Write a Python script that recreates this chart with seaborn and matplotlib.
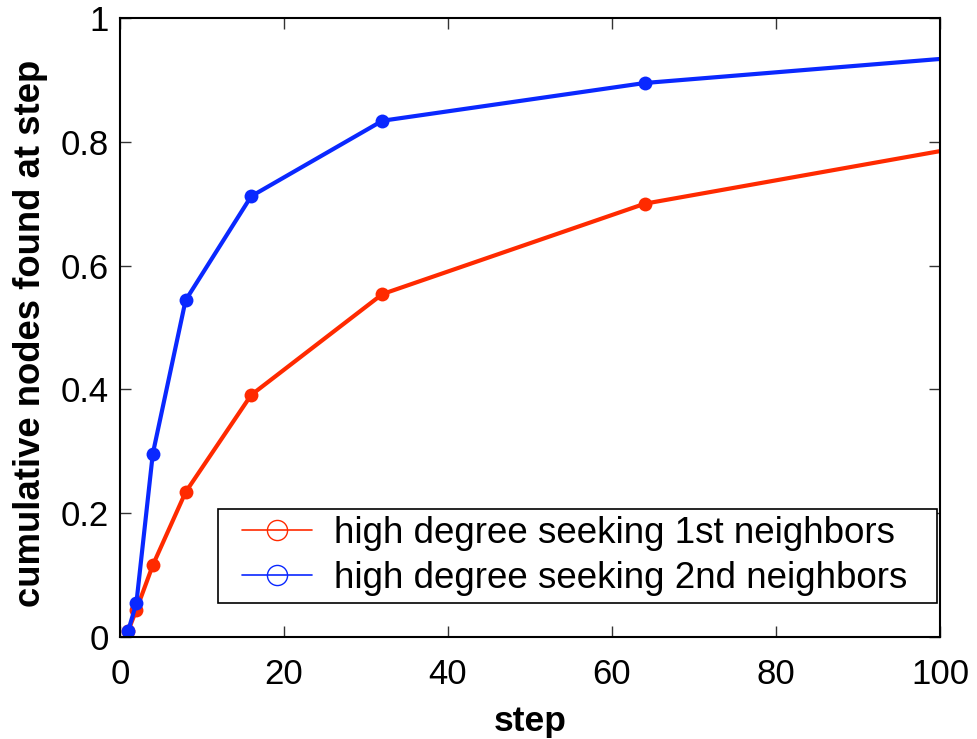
import numpy as np
import pandas as pd
import matplotlib
matplotlib.use("Agg")
import matplotlib.pyplot as plt
from matplotlib.lines import Line2D
from matplotlib.legend_handler import HandlerLine2D
import seaborn as sns

# Search steps and cumulative fraction of nodes found
steps = [1, 2, 4, 8, 16, 32, 64, 128]
first_neighbors = [0.010, 0.044, 0.116, 0.234, 0.391, 0.554, 0.700, 0.851]
second_neighbors = [0.010, 0.055, 0.296, 0.544, 0.712, 0.834, 0.895, 0.964]
series_names = ["high degree seeking 1st neighbors",
                "high degree seeking 2nd neighbors"]
x_ticks = [0, 20, 40, 60, 80, 100]
y_ticks = [0, 0.2, 0.4, 0.6, 0.8, 1]
y_tick_labels = ["0", "0.2", "0.4", "0.6", "0.8", "1"]

red = "#ff2a00"
blue = "#0a28ff"

df = pd.DataFrame({
    "step": steps * 2,
    "frac": first_neighbors + second_neighbors,
    "method": [series_names[0]] * len(steps) + [series_names[1]] * len(steps),
})

sns.set_theme(style="white")
plt.rcParams["font.family"] = ["Liberation Sans", "DejaVu Sans"]
plt.rcParams["text.color"] = "black"
plt.rcParams["axes.labelcolor"] = "black"

fig = plt.figure(figsize=(9.77, 7.39), dpi=100)
ax = fig.add_axes([120 / 977, 102 / 739, 820 / 977, 619 / 739])

sns.lineplot(data=df, x="step", y="frac", hue="method",
             palette=[red, blue], marker="o", markersize=10,
             markeredgewidth=0, linewidth=3.0, ax=ax, legend=False)

ax.set_xlim(0, 100)
ax.set_ylim(0, 1)
ax.set_xticks(x_ticks)
ax.set_xticklabels([str(t) for t in x_ticks])
ax.set_yticks(y_ticks)
ax.set_yticklabels(y_tick_labels)
ax.tick_params(direction="in", length=8, width=1, color="#333333",
               labelsize=25, labelcolor="black", top=True, right=True,
               bottom=True, left=True)
ax.tick_params(axis="x", pad=15)
ax.tick_params(axis="y", pad=8)
for s in ax.spines.values():
    s.set_visible(True)
    s.set_color("black")
    s.set_linewidth(1.5)

ax.set_xlabel("step", fontsize=25.5, fontweight="bold", labelpad=10)
ax.set_ylabel("cumulative nodes found at step", fontsize=26.3,
              fontweight="bold", labelpad=9)
ax.yaxis.label.set_y(0.49)

handles = [
    Line2D([], [], color=red, lw=1.2, marker="o", markersize=14.5,
           markerfacecolor="none", markeredgecolor=red, markeredgewidth=1.0),
    Line2D([], [], color=blue, lw=1.2, marker="o", markersize=14.5,
           markerfacecolor="none", markeredgecolor=blue, markeredgewidth=1.0),
]
leg_fs = 26.5
leg = ax.legend(handles, series_names, loc="lower left",
                bbox_to_anchor=(98 / 820, 34 / 619, 719 / 820, 0.15),
                mode="expand", fontsize=leg_fs, frameon=True,
                fancybox=False, edgecolor="black", framealpha=1,
                handlelength=2.36, handletextpad=0.6, borderpad=0.2,
                labelspacing=0.26, borderaxespad=0,
                handler_map={Line2D: HandlerLine2D(xpad=0.45)})
leg.get_frame().set_linewidth(1.2)

fig.savefig("out.png", dpi=100)
